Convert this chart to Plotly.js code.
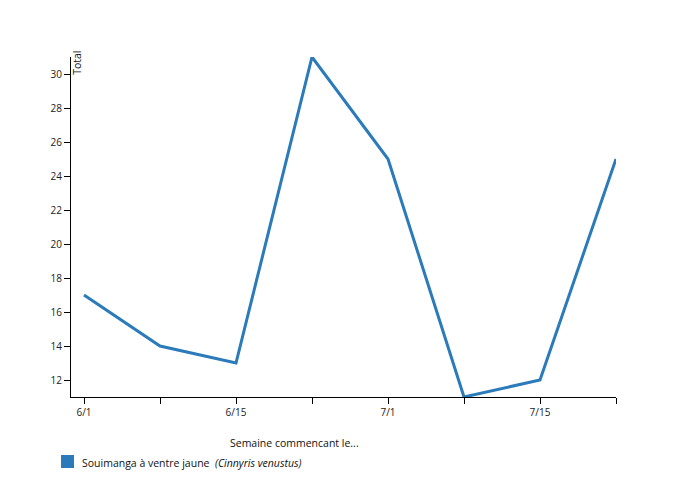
<!DOCTYPE html>
<html><head><meta charset="utf-8">
<script src="https://cdn.plot.ly/plotly-3.0.1.min.js"></script>
<style>body{margin:0;background:#fff}#c{width:679px;height:497px}</style>
</head><body><div id="c"></div>
<script>
const weekIndex = [0, 1, 2, 3, 4, 5, 6, 7];
const weekLabels = ["6/1", "", "6/15", "", "7/1", "", "7/15", ""];
const totals = [17, 14, 13, 31, 25, 11, 12, 25];
const seriesName = "Souimanga à ventre jaune";
const seriesLatin = "Cinnyris venustus";
const yTicks = [12, 14, 16, 18, 20, 22, 24, 26, 28, 30];
const color = "#2b7bba";
const font = "'Segoe UI', 'Open Sans', 'Noto Sans', sans-serif";

Plotly.newPlot("c", [{
  x: weekIndex, y: totals, type: "scatter", mode: "lines", cliponaxis: false,
  line: {color: color, width: 3}, showlegend: false, hoverinfo: "none"
}], {
  width: 679, height: 497,
  margin: {l: 71, r: 63, t: 57, b: 100},
  paper_bgcolor: "#fff", plot_bgcolor: "#fff",
  font: {family: font, size: 10, color: "#222"},
  xaxis: {range: [-0.171, 7], tickvals: weekIndex, ticktext: weekLabels,
    showgrid: false, zeroline: false, showline: true, linecolor: "#000", linewidth: 1,
    ticks: "outside", ticklen: 6, tickcolor: "#000", tickfont: {size: 10}},
  yaxis: {range: [11, 31], tickvals: yTicks, showgrid: false, zeroline: false,
    showline: true, linecolor: "#000", linewidth: 1,
    ticks: "outside", ticklen: 6, tickcolor: "#000", tickfont: {size: 10}},
  annotations: [
    {xref: "paper", yref: "paper", x: 0.411, y: -0.135, yanchor: "middle", xanchor: "center",
     text: "Semaine commencant le...", showarrow: false, font: {size: 10.5, color: "#111"}},
    {xref: "paper", yref: "paper", x: 0.011, y: 1.024, xanchor: "center", yanchor: "top",
     text: "Total", textangle: -90, showarrow: false, font: {size: 10.5, color: "#111"}},
    {xref: "paper", yref: "paper", x: 0.0165, y: -0.194, xanchor: "left", yanchor: "middle",
     text: seriesName + "  <i>(" + seriesLatin + ")</i>", showarrow: false, font: {size: 10.5, color: "#111"}}
  ],
  shapes: [
    {type: "rect", xref: "paper", yref: "paper", x0: -0.0183, x1: 0.0055, y0: -0.2088, y1: -0.1706,
     fillcolor: color, line: {width: 0}}
  ]
}, {displayModeBar: false, staticPlot: true});
</script></body></html>
